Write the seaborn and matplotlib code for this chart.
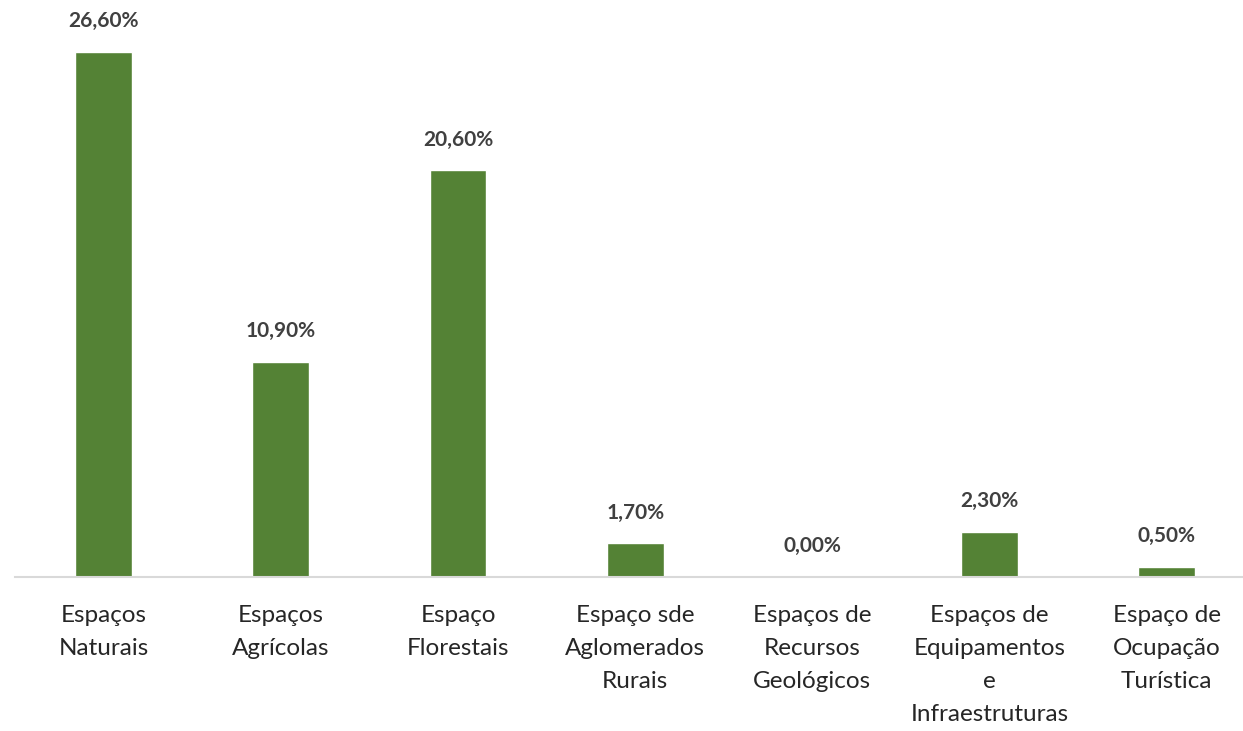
import pandas as pd
import seaborn as sns
import matplotlib.pyplot as plt

# chart data
categories = [
    "Espaços\nNaturais",
    "Espaços\nAgrícolas",
    "Espaço\nFlorestais",
    "Espaço sde\nAglomerados\nRurais",
    "Espaços de\nRecursos\nGeológicos",
    "Espaços de\nEquipamentos\ne\nInfraestruturas",
    "Espaço de\nOcupação\nTurística",
]
values = [26.6, 10.9, 20.6, 1.7, 0.0, 2.3, 0.5]
value_labels = ["26,60%", "10,90%", "20,60%", "1,70%", "0,00%", "2,30%", "0,50%"]

df = pd.DataFrame({"cat": categories, "val": values})

sns.set_theme(style="white")
plt.rcParams['font.family'] = ['Lato', 'DejaVu Sans']

fig = plt.figure(figsize=(12.43, 7.31), dpi=100)
ax = fig.add_axes([15 / 1243, 0.2107, 1 - 15 / 1243, 0.7893])

sns.barplot(data=df, x="cat", y="val", color="#548235", width=0.32,
            saturation=1, ax=ax)

# value labels above bars
ax.bar_label(ax.containers[0], labels=value_labels, padding=15,
             fontsize=15, fontweight="bold", color="#404040")

ax.set_ylim(0, 29.23)
ax.set_xlim(-0.5, 6.43)
ax.set_xlabel("")
ax.set_ylabel("")
ax.set_yticks([])
for side in ["top", "right", "left"]:
    ax.spines[side].set_visible(False)
ax.spines["bottom"].set_color("#d9d9d9")
ax.spines["bottom"].set_linewidth(1.5)
ax.tick_params(axis="x", length=0, pad=20)
for lbl in ax.get_xticklabels():
    lbl.set_fontsize(17.5)
    lbl.set_color("#262626")
    lbl.set_linespacing(1.72)
    lbl.set_verticalalignment("top")

fig.savefig("out.png", dpi=100)
